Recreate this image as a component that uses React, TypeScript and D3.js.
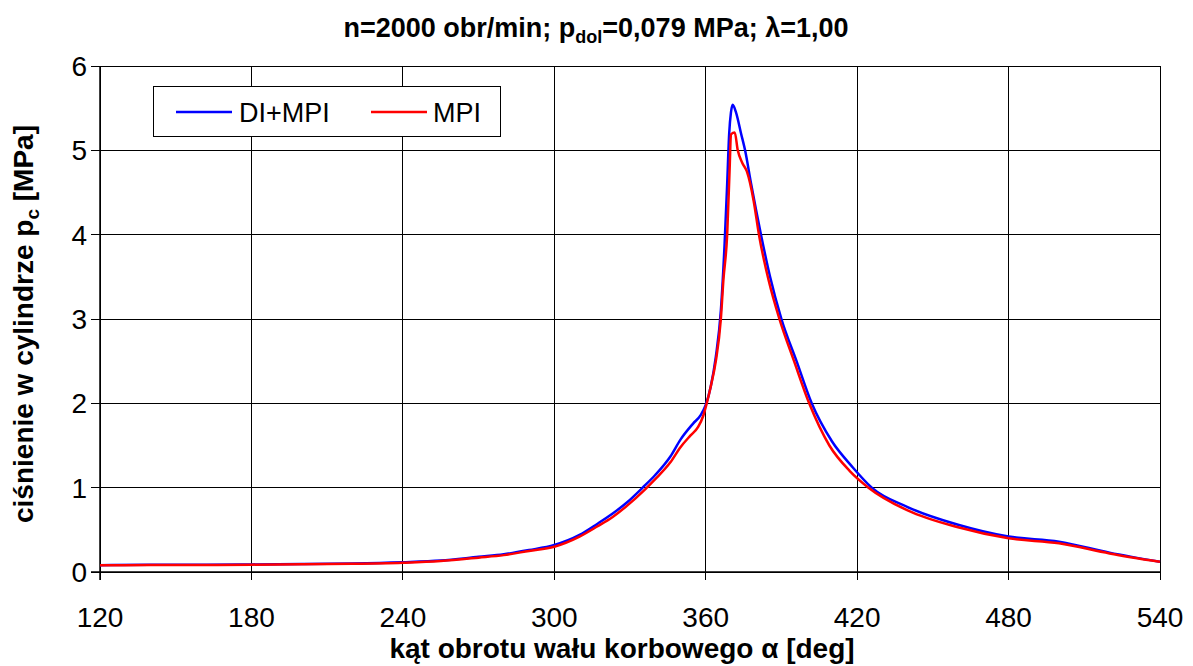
import React from "react";
import * as d3 from "d3";

const title = "n=2000 obr/min; p";
const titleSub = "dol";
const titleRest = "=0,079 MPa; λ=1,00";
const xLabel = "kąt obrotu wału korbowego α [deg]";
const yLabelMain = "ciśnienie w cylindrze p";
const yLabelSub = "c";
const yLabelRest = " [MPa]";

const xTicks = [120, 180, 240, 300, 360, 420, 480, 540];
const yTicks = [0, 1, 2, 3, 4, 5, 6];

const seriesNames = ["DI+MPI", "MPI"];

const anglesDI = [120, 140, 160, 180, 200, 220, 240, 255, 270, 280, 290, 300, 310, 317, 323, 329, 335, 340, 346, 350, 355, 358, 360, 362, 364, 366, 367.5, 368.5, 369.3, 370, 370.7, 372, 374, 375.6, 378, 381.9, 385.5, 390, 396, 402, 410, 418, 425.8, 440, 460, 480, 500, 520, 540];
const pressureDI = [0.08, 0.085, 0.085, 0.09, 0.095, 0.1, 0.115, 0.135, 0.18, 0.21, 0.26, 0.32, 0.44, 0.57, 0.69, 0.83, 1.0, 1.15, 1.37, 1.57, 1.76, 1.86, 1.98, 2.2, 2.55, 3.1, 3.9, 4.6, 5.2, 5.45, 5.54, 5.45, 5.2, 5.0, 4.6, 4.0, 3.5, 3.0, 2.5, 2.0, 1.55, 1.25, 1.0, 0.77, 0.56, 0.42, 0.36, 0.23, 0.12];

const anglesMPI = [120, 140, 160, 180, 200, 220, 240, 255, 270, 280, 290, 300, 310, 317, 323, 329, 336, 340, 346, 350, 354, 357, 359, 360.4, 362, 364, 366, 367, 368.5, 369.5, 370, 371.5, 372.7, 374.5, 376.3, 379, 381.1, 385, 389.2, 395, 401, 409, 417, 424.5, 440, 460, 480, 500, 520, 540];
const pressureMPI = [0.08, 0.082, 0.083, 0.087, 0.092, 0.097, 0.11, 0.13, 0.17, 0.2, 0.25, 0.3, 0.42, 0.54, 0.65, 0.79, 0.98, 1.1, 1.3, 1.48, 1.62, 1.72, 1.85, 2.0, 2.2, 2.5, 3.0, 3.46, 4.0, 4.8, 5.19, 5.21, 5.0, 4.85, 4.75, 4.4, 4.0, 3.45, 3.0, 2.5, 2.0, 1.5, 1.2, 1.0, 0.73, 0.53, 0.4, 0.34, 0.22, 0.12];

const W = 1193;
const H = 666;
const M = { left: 100, right: 1160, top: 66, bottom: 572 };
const FONT = "'Liberation Sans', Arial, sans-serif";

export default function App() {
  const x = d3.scaleLinear().domain([120, 540]).range([M.left, M.right]);
  const y = d3.scaleLinear().domain([0, 6]).range([M.bottom, M.top]);

  const line = d3
    .line<[number, number]>()
    .x((d) => x(d[0]))
    .y((d) => y(d[1]))
    .curve(d3.curveMonotoneX);

  const dataDI: [number, number][] = anglesDI.map((a, i) => [a, pressureDI[i]]);
  const dataMPI: [number, number][] = anglesMPI.map((a, i) => [a, pressureMPI[i]]);

  return (
    <svg
      width={W}
      height={H}
      style={{ position: "absolute", left: 0, top: 0, background: "#fff" }}
      fontFamily={FONT}
    >
      <rect x={0} y={0} width={W} height={H} fill="#fff" />
      {xTicks.map((t) => (
        <line key={"gx" + t} x1={x(t)} x2={x(t)} y1={M.top} y2={M.bottom} stroke="#000" strokeWidth={1} shapeRendering="crispEdges" />
      ))}
      {yTicks.map((t) => (
        <line key={"gy" + t} x1={M.left} x2={M.right} y1={y(t)} y2={y(t)} stroke="#000" strokeWidth={1} shapeRendering="crispEdges" />
      ))}
      <line x1={M.left} x2={M.left} y1={M.top} y2={M.bottom + 8} stroke="#000" strokeWidth={1.5} />
      <line x1={M.left - 9} x2={M.right} y1={M.bottom} y2={M.bottom} stroke="#000" strokeWidth={1.5} />
      {yTicks.map((t) => (
        <line key={"ty" + t} x1={M.left - 9} x2={M.left} y1={y(t)} y2={y(t)} stroke="#000" strokeWidth={1} shapeRendering="crispEdges" />
      ))}
      {xTicks.map((t) => (
        <line key={"tx" + t} x1={x(t)} x2={x(t)} y1={M.bottom} y2={M.bottom + 8} stroke="#000" strokeWidth={1} shapeRendering="crispEdges" />
      ))}
      {yTicks.map((t) => (
        <text key={"ly" + t} x={M.left - 13} y={y(t) + 10} textAnchor="end" fontSize={28}>
          {t}
        </text>
      ))}
      {xTicks.map((t) => (
        <text key={"lx" + t} x={x(t)} y={627} textAnchor="middle" fontSize={28}>
          {t}
        </text>
      ))}
      <path d={line(dataDI) || ""} fill="none" stroke="#0000FF" strokeWidth={2.5} strokeLinejoin="round" />
      <path d={line(dataMPI) || ""} fill="none" stroke="#FF0000" strokeWidth={2.5} strokeLinejoin="round" />
      <rect x={153.5} y={86.5} width={347} height={50} fill="#fff" stroke="#000" strokeWidth={1} />
      <line x1={176} x2={232} y1={112} y2={112} stroke="#0000FF" strokeWidth={2.5} />
      <text x={239} y={122} fontSize={27}>{seriesNames[0]}</text>
      <line x1={371} x2={427} y1={112} y2={112} stroke="#FF0000" strokeWidth={2.5} />
      <text x={433} y={122} fontSize={27}>{seriesNames[1]}</text>
      <text x={596} y={37} textAnchor="middle" fontSize={27} fontWeight="bold">
        {title}
        <tspan fontSize={18} dy={6}>{titleSub}</tspan>
        <tspan dy={-6}>{titleRest}</tspan>
      </text>
      <text x={622} y={658} textAnchor="middle" fontSize={28} fontWeight="bold">
        {xLabel}
      </text>
      <text transform={`translate(33, 324) rotate(-90)`} textAnchor="middle" fontSize={28} fontWeight="bold">
        {yLabelMain}
        <tspan fontSize={19} dy={6}>{yLabelSub}</tspan>
        <tspan dy={-6}>{yLabelRest}</tspan>
      </text>
    </svg>
  );
}
